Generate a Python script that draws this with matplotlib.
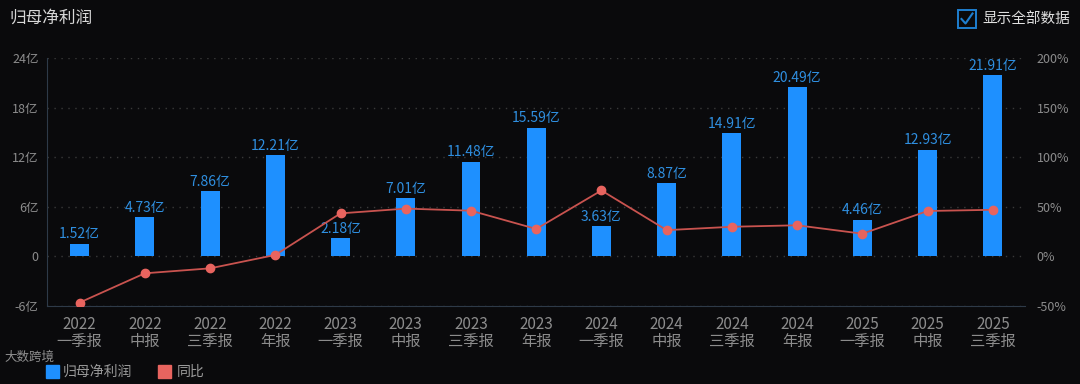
import matplotlib
matplotlib.use("Agg")
import matplotlib.pyplot as plt
from matplotlib.patches import Rectangle

plt.rcParams['font.family'] = ['Noto Sans CJK SC', 'DejaVu Sans']

# data
periods = ['2022\n一季报', '2022\n中报', '2022\n三季报', '2022\n年报',
           '2023\n一季报', '2023\n中报', '2023\n三季报', '2023\n年报',
           '2024\n一季报', '2024\n中报', '2024\n三季报', '2024\n年报',
           '2025\n一季报', '2025\n中报', '2025\n三季报']
profit = [1.52, 4.73, 7.86, 12.21, 2.18, 7.01, 11.48, 15.59,
          3.63, 8.87, 14.91, 20.49, 4.46, 12.93, 21.91]
yoy = [-46.5, -17.0, -12.0, 1.5, 43.4, 48.2, 46.1, 27.7,
       66.5, 26.5, 29.9, 31.4, 22.9, 45.8, 47.0]
left_ticks = [-6, 0, 6, 12, 18, 24]
left_labels = ['-6亿', '0', '6亿', '12亿', '18亿', '24亿']
right_ticks = [-50, 0, 50, 100, 150, 200]

bg = '#0a0a0c'
bar_c = '#1e90ff'
lbl_c = '#2f8fe0'
line_c = '#c9534f'
dot_c = '#e8645f'
tick_c = '#8c8c8c'

fig = plt.figure(figsize=(10.8, 3.84), dpi=100, facecolor=bg)
ax = fig.add_axes([0.0435, 0.203, 0.906, 0.646], facecolor=bg)
ax2 = ax.twinx()

x = list(range(len(periods)))
ax.bar(x, profit, width=0.29, color=bar_c, zorder=3)
for xi, v in zip(x, profit):
    ax.text(xi, v + 0.3, f'{v:.2f}亿', color=lbl_c, fontsize=10,
            ha='center', va='bottom', zorder=4)

ax.set_xlim(-0.5, len(periods) - 0.5)
ax.set_ylim(-6, 24)
ax.set_yticks(left_ticks)
ax.set_yticklabels(left_labels)
ax.set_xticks(x)
ax.set_xticklabels(periods, linespacing=1.0)
ax.grid(axis='y', color='#3a3a3a', linestyle=(0, (1, 4)), linewidth=1, zorder=0)
ax.tick_params(axis='both', colors=tick_c, labelsize=9, length=0, pad=6)
ax.tick_params(axis='x', labelsize=11, pad=7)
for s in ['top', 'right']:
    ax.spines[s].set_visible(False)
ax.spines['left'].set_color('#2e3a48')
ax.spines['bottom'].set_color('#2e3a48')

ax2.plot(x, yoy, color=line_c, linewidth=1.3, marker='o', markersize=6,
         markerfacecolor=dot_c, markeredgecolor=dot_c, zorder=5)
ax2.set_ylim(-50, 200)
ax2.set_yticks(right_ticks)
ax2.set_yticklabels([f'{t}%' for t in right_ticks])
ax2.tick_params(axis='y', colors=tick_c, labelsize=9, length=0, pad=8)
for s in ax2.spines.values():
    s.set_visible(False)

# title
fig.text(0.009, 0.953, '归母净利润', color='#d8d8d8', fontsize=12, va='center')

# checkbox top right
fig.patches.append(Rectangle((958 / 1080, 1 - 28 / 384), 18 / 1080, 18 / 384,
                             transform=fig.transFigure, fill=False,
                             edgecolor='#1e7fd0', linewidth=1.4))
fig.lines.append(plt.Line2D([961.5 / 1080, 965.5 / 1080, 972.5 / 1080],
                            [1 - 19 / 384, 1 - 23.5 / 384, 1 - 13.5 / 384],
                            transform=fig.transFigure, color='#1e7fd0', linewidth=1.5))
fig.text(982 / 1080, 1 - 19 / 384, '显示全部数据', color='#e0e0e0', fontsize=10.5, va='center')

# legend at bottom
fig.patches.append(Rectangle((46 / 1080, 1 - 378 / 384), 13 / 1080, 13 / 384,
                             transform=fig.transFigure, color=bar_c))
fig.text(63 / 1080, 1 - 372 / 384, '归母净利润', color='#9a9a9a', fontsize=10, va='center')
fig.patches.append(Rectangle((158 / 1080, 1 - 378 / 384), 13 / 1080, 13 / 384,
                             transform=fig.transFigure, color=dot_c))
fig.text(177 / 1080, 1 - 372 / 384, '同比', color='#9a9a9a', fontsize=10, va='center')

# watermark, squeezed into the gap between tick labels and legend
fig.text(4 / 1080, 1 - 357 / 384, '大数跨境', color='#bbbbbb', alpha=0.75,
         fontsize=9, va='center')

fig.savefig('out.png', dpi=100, facecolor=bg)
